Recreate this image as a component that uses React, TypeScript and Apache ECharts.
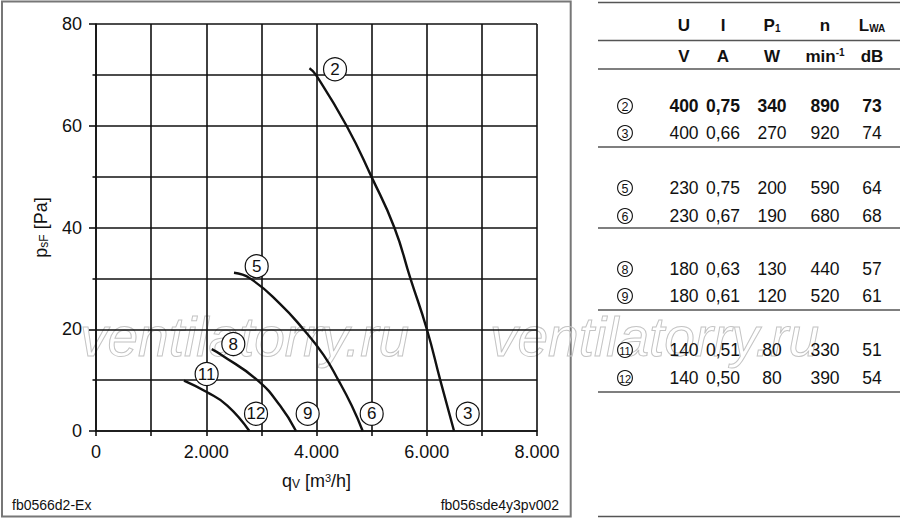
import React, { useEffect, useRef } from 'react';
import * as echarts from 'echarts';

const FONT = '"Liberation Sans", Arial, Helvetica, sans-serif';
const INK = '#111';

// Characteristic curves: [q_V m³/h, p_sF Pa]
const curve23 = [[3872, 71.3], [3990, 70], [4545, 60], [4996, 50], [5412, 40], [5703, 30], [6002, 20], [6245, 10], [6495, 0]];
const curve56 = [[2503, 31.1], [2794, 30], [3338, 25], [3761, 20], [4124, 15], [4396, 10], [4638, 5], [4838, 0]];
const curve89 = [[2099, 16.1], [2270, 15], [2927, 10], [3338, 5], [3628, 0]];
const curve1112 = [[1596, 9.9], [2000, 7.7], [2382, 5], [2782, 0]];

// Circled curve markers: [q_V, p_sF, label]
const curveLabels = [
  [4336, 71.1, '2'], [6743, 3.4, '3'],
  [2915, 32.4, '5'], [5001, 3.4, '6'],
  [2491, 17.1, '8'], [3840, 3.4, '9'],
  [2007, 11.2, '11'], [2903, 3.4, '12'],
];

// Table data
const headers = ['U', 'I', 'P{s|1}', 'n', 'L{s|WA}'];
const units = ['V', 'A', 'W', 'min{p|-1}', 'dB'];
const rowIds = ['2', '3', '5', '6', '8', '9', '11', '12'];
const voltages = ['400', '400', '230', '230', '180', '180', '140', '140'];
const currents = ['0,75', '0,66', '0,75', '0,67', '0,63', '0,61', '0,51', '0,50'];
const powers = ['340', '270', '200', '190', '130', '120', '80', '80'];
const speeds = ['890', '920', '590', '680', '440', '520', '330', '390'];
const levels = ['73', '74', '64', '68', '57', '61', '51', '54'];
const boldRows = ['2'];

// Table layout
const rowY = [106, 133, 188, 216, 269, 296, 350, 378];
const colX = [684, 723, 772, 825, 872];
const ruleY = [2.5, 40.5, 69, 147, 228, 310, 392, 516.5];

const gridLine = { color: INK, width: 1.6 };

export default function App() {
  const ref = useRef<HTMLDivElement>(null);

  useEffect(() => {
    if (!ref.current) return;
    const chart = echarts.init(ref.current, undefined, { renderer: 'svg' });

    const graphics: any[] = [];
    // outer frame of diagram
    graphics.push({
      type: 'rect', z: -20,
      shape: { x: 2, y: 1.5, width: 568.7, height: 515 },
      style: { fill: 'rgba(0,0,0,0)', stroke: '#777', lineWidth: 2 },
    });
    // watermark
    [80, 490].forEach((wx) => {
      graphics.push({
        type: 'text', z: -10, x: wx, y: 337,
        style: {
          text: 'ventilatorry.ru', fontSize: 55, fontStyle: 'italic', fontFamily: FONT,
          fill: 'rgba(0,0,0,0)', stroke: '#c4c4c4', lineWidth: 1,
          align: 'left', verticalAlign: 'middle',
        },
      });
    });
    // footers
    graphics.push({
      type: 'text', x: 12, y: 505,
      style: { text: 'fb0566d2-Ex', fontSize: 14, fontFamily: FONT, fill: INK, align: 'left', verticalAlign: 'middle' },
    });
    graphics.push({
      type: 'text', x: 559, y: 505,
      style: { text: 'fb056sde4y3pv002', fontSize: 14, fontFamily: FONT, fill: INK, align: 'right', verticalAlign: 'middle' },
    });
    // table rules
    ruleY.forEach((ry) => {
      graphics.push({
        type: 'line', shape: { x1: 598, y1: ry, x2: 900, y2: ry },
        style: { stroke: '#555', lineWidth: 1.5 },
      });
    });
    const richHead = {
      s: { fontSize: 10, fontWeight: 'bold', fontFamily: FONT, fill: INK, verticalAlign: 'bottom', lineHeight: 6 },
      p: { fontSize: 10, fontWeight: 'bold', fontFamily: FONT, fill: INK, verticalAlign: 'top', lineHeight: 8 },
    };
    headers.forEach((h, i) => {
      graphics.push({
        type: 'text', x: colX[i], y: 25,
        style: { text: h, fontSize: 17, fontWeight: 'bold', fontFamily: FONT, fill: INK, align: 'center', verticalAlign: 'middle', rich: richHead },
      });
    });
    units.forEach((u, i) => {
      graphics.push({
        type: 'text', x: colX[i], y: 56,
        style: { text: u, fontSize: 17, fontWeight: 'bold', fontFamily: FONT, fill: INK, align: 'center', verticalAlign: 'middle', rich: richHead },
      });
    });
    rowIds.forEach((id, r) => {
      const y = rowY[r];
      const bold = boldRows.includes(id) ? 'bold' : 'normal';
      graphics.push({
        type: 'circle', shape: { cx: 625, cy: y, r: 7.4 },
        style: { fill: '#fff', stroke: INK, lineWidth: 1.1 },
      });
      graphics.push({
        type: 'text', x: 625, y: y + 0.5,
        style: { text: id, fontSize: id.length > 1 ? 11 : 12.5, fontFamily: FONT, fill: INK, align: 'center', verticalAlign: 'middle' },
      });
      [voltages[r], currents[r], powers[r], speeds[r], levels[r]].forEach((v, c) => {
        graphics.push({
          type: 'text', x: colX[c], y,
          style: { text: v, fontSize: 17.5, fontWeight: bold, fontFamily: FONT, fill: INK, align: 'center', verticalAlign: 'middle' },
        });
      });
    });

    const lineSeries = (data: number[][]) => ({
      type: 'line', data, smooth: 0.5, showSymbol: false, symbol: 'none',
      lineStyle: { color: INK, width: 2.4 }, z: 3, silent: true,
    });

    const option: any = {
      animation: false,
      backgroundColor: '#fff',
      grid: { left: 96, top: 24, width: 441, height: 407, containLabel: false },
      xAxis: {
        type: 'value', min: 0, max: 8000, interval: 2000,
        name: 'q{s|V} [m{p|3}/h]', nameLocation: 'middle', nameGap: 41,
        nameTextStyle: {
          fontSize: 18, color: INK, fontFamily: FONT,
          rich: {
            s: { fontSize: 12, color: INK, fontFamily: FONT, verticalAlign: 'bottom', lineHeight: 4 },
            p: { fontSize: 11, color: INK, fontFamily: FONT, verticalAlign: 'top', lineHeight: 10 },
          },
        },
        axisLine: { show: true, onZero: false, lineStyle: gridLine },
        axisTick: { show: true, length: 5, lineStyle: gridLine },
        minorTick: { show: true, splitNumber: 2, length: 5, lineStyle: gridLine },
        splitLine: { show: true, lineStyle: gridLine },
        minorSplitLine: { show: true, lineStyle: gridLine },
        axisLabel: {
          fontSize: 18, color: INK, fontFamily: FONT, margin: 12,
          formatter: (v: number) => (v === 0 ? '0' : `${Math.round(v / 1000)}.000`),
        },
      },
      yAxis: {
        type: 'value', min: 0, max: 80, interval: 20,
        name: 'p{s|sF} [Pa]', nameLocation: 'middle', nameGap: 46, nameRotate: 90,
        nameTextStyle: {
          fontSize: 18, color: INK, fontFamily: FONT,
          rich: {
            s: { fontSize: 12, color: INK, fontFamily: FONT, verticalAlign: 'bottom', lineHeight: 4 },
          },
        },
        axisLine: { show: true, onZero: false, lineStyle: gridLine },
        axisTick: { show: true, length: 7, lineStyle: gridLine },
        minorTick: { show: true, splitNumber: 2, length: 3.5, lineStyle: gridLine },
        splitLine: { show: true, lineStyle: gridLine },
        minorSplitLine: { show: true, lineStyle: gridLine },
        axisLabel: { fontSize: 18, color: INK, fontFamily: FONT, margin: 14 },
      },
      series: [
        lineSeries(curve23),
        lineSeries(curve56),
        lineSeries(curve89),
        lineSeries(curve1112),
        {
          type: 'scatter', data: curveLabels, symbol: 'circle', symbolSize: 23, z: 4, silent: true,
          itemStyle: { color: '#fff', borderColor: INK, borderWidth: 1.2, opacity: 1 },
          label: {
            show: true, position: 'inside', fontSize: 17, color: INK, fontFamily: FONT,
            formatter: (p: any) => p.data[2],
          },
        },
      ],
      graphic: { elements: graphics },
    };

    chart.setOption(option);
    return () => chart.dispose();
  }, []);

  return <div ref={ref} style={{ position: 'fixed', left: 0, top: 0, width: 900, height: 520, background: '#fff' }} />;
}
